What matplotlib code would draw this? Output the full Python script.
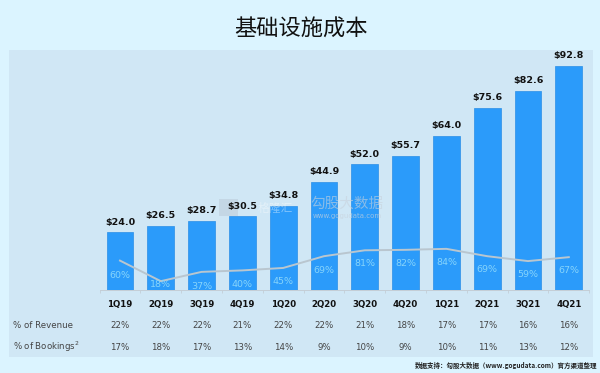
import matplotlib
matplotlib.use("Agg")
import matplotlib.pyplot as plt
from matplotlib.patches import Rectangle
from matplotlib.transforms import blended_transform_factory

plt.rcParams['font.family'] = ['Noto Sans CJK SC', 'DejaVu Sans']

quarters = ['1Q19', '2Q19', '3Q19', '4Q19', '1Q20', '2Q20', '3Q20', '4Q20', '1Q21', '2Q21', '3Q21', '4Q21']
costs = [24.0, 26.5, 28.7, 30.5, 34.8, 44.9, 52.0, 55.7, 64.0, 75.6, 82.6, 92.8]
line_pct = [60, 18, 37, 40, 45, 69, 81, 82, 84, 69, 59, 67]
pct_revenue = [22, 22, 22, 21, 22, 22, 21, 18, 17, 17, 16, 16]
pct_bookings = [17, 18, 17, 13, 14, 9, 10, 9, 10, 11, 13, 12]

# how far each % label sits below the line, in points
label_drop = [10.5, 2.5, 10.5, 10.5, 10, 10, 9.5, 9.5, 10, 9.5, 9.5, 9.5]

W, H = 600, 373
fig = plt.figure(figsize=(W / 100, H / 100), dpi=100, facecolor='#dbf4ff')

# overlay in pixel coordinates for the panel and the free text
bg = fig.add_axes([0, 0, 1, 1])
bg.set_xlim(0, W)
bg.set_ylim(H, 0)
bg.axis('off')
bg.add_patch(Rectangle((9, 50), 584, 307, facecolor='#d0e7f5', edgecolor='none'))
bg.add_patch(Rectangle((219, 199), 19, 17, facecolor='#bccddb', edgecolor='none', alpha=0.6))

bg.text(301, 29, '基础设施成本', fontsize=16, ha='center', va='center', color='#111111')
bg.text(597, 365.5, '数据支持：勾股大数据（www.gogudata.com）官方渠道整理', fontsize=4.7,
        ha='right', va='center', color='#222222', fontweight='bold')
bg.text(13, 325, '% of Revenue', fontsize=6.2, family='DejaVu Sans', va='center', color='#444444')
bg.text(13, 347, '% of Bookings$^2$', fontsize=6.2, family='DejaVu Sans', va='center', color='#444444')

# main axes, baseline at y=290 px
ax = fig.add_axes([9 / W, (H - 290) / H, 584 / W, 240 / H])
ax.patch.set_alpha(0)
ax.set_xlim((9 - 120) / 40.8, (593 - 120) / 40.8)
ax.set_ylim(0, 240 / 2.414)
x = list(range(len(quarters)))

ax.bar(x, costs, width=0.66, color='#2b9bfa', edgecolor='#2a8fe6', linewidth=0.5, zorder=2)
for i, v in zip(x, costs):
    ax.annotate(f'${v:.1f}', (i, v), xytext=(0, 4), textcoords='offset points', ha='center', va='bottom',
                fontsize=6.8, fontweight='bold', family='DejaVu Sans', color='#111111', zorder=5)

ax2 = ax.twinx()
ax2.set_ylim(0, 240 / 0.49)
ax2.axis('off')
ax2.plot(x, line_pct, color='#b9c6cf', linewidth=1.4, zorder=3)
for i, p, d in zip(x, line_pct, label_drop):
    ax2.annotate(f'{p}%', (i, p), xytext=(0, -d), textcoords='offset points', ha='center', va='center',
                 fontsize=6.8, family='DejaVu Sans', color='#86d4fb', zorder=4)

for s in ['top', 'left', 'right']:
    ax.spines[s].set_visible(False)
ax.spines['bottom'].set_bounds(-0.5, 11.5)
ax.spines['bottom'].set_color('#c4ced6')
ax.spines['bottom'].set_linewidth(0.7)
ax.set_yticks([])
ax.set_xticks(x)
ax.set_xticklabels(quarters, fontsize=6.2, fontweight='bold', family='DejaVu Sans', color='#111111')
ax.set_xticks([i - 0.5 for i in range(13)], minor=True)
ax.tick_params(axis='x', which='major', length=0, pad=7)
ax.tick_params(axis='x', which='minor', length=2, width=0.6, color='#c4ced6', direction='out')

# percentage rows
row = blended_transform_factory(ax.transData, bg.transData)
for i, r, b in zip(x, pct_revenue, pct_bookings):
    bg.text(i, 325, f'{r}%', transform=row, fontsize=6.2, family='DejaVu Sans', ha='center', va='center', color='#444444')
    bg.text(i, 347, f'{b}%', transform=row, fontsize=6.2, family='DejaVu Sans', ha='center', va='center', color='#444444')

# watermarks
fg = fig.add_axes([0, 0, 1, 1])
fg.set_xlim(0, W)
fg.set_ylim(H, 0)
fg.axis('off')
fg.text(275, 208, '格隆汇', fontsize=8.5, ha='center', va='center', color='#ffffff', alpha=0.4)
fg.text(347, 204, '勾股大数据', fontsize=10.5, ha='center', va='center', color='#c8d2dc', alpha=0.6)
fg.text(347, 216, 'www.gogudata.com', fontsize=5, family='DejaVu Sans', ha='center', va='center', color='#c8d2dc', alpha=0.7)

fig.savefig('out.png', dpi=100, facecolor=fig.get_facecolor())
